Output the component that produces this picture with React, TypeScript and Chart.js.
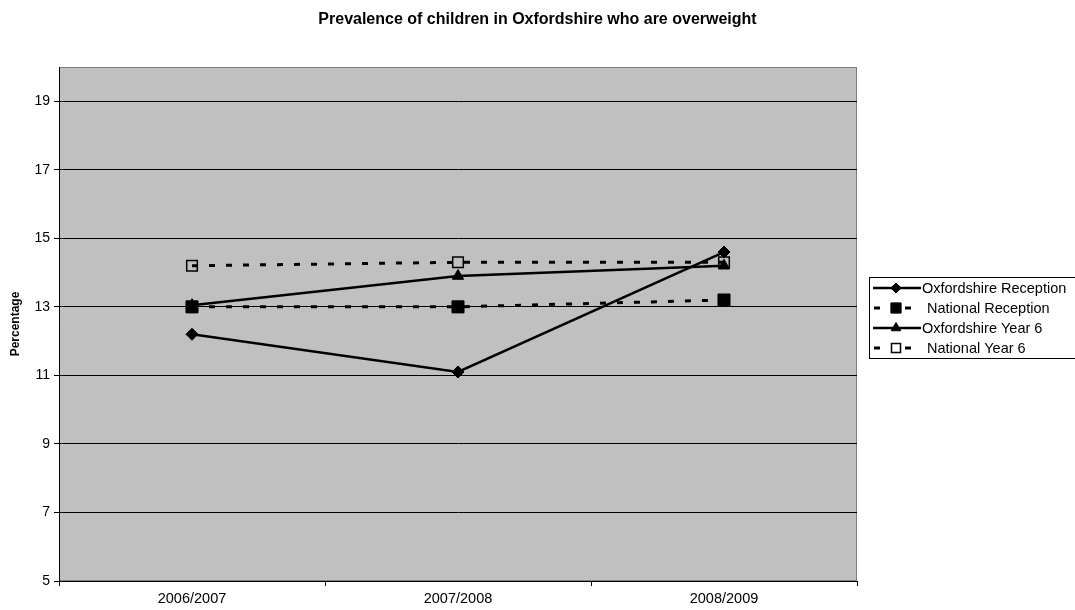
import React, { useEffect, useRef } from 'react';
import { Chart, registerables } from 'chart.js';

Chart.register(...registerables);

const chartTitle = 'Prevalence of children in Oxfordshire who are overweight';
const yAxisTitle = 'Percentage';
const categories = ['2006/2007', '2007/2008', '2008/2009'];
const seriesNames = ['Oxfordshire Reception', 'National Reception', 'Oxfordshire Year 6', 'National Year 6'];
const oxfordshireReception = [12.2, 11.1, 14.6];
const nationalReception = [13.0, 13.0, 13.2];
const oxfordshireYear6 = [13.05, 13.9, 14.2];
const nationalYear6 = [14.2, 14.3, 14.3];
const yTicks = [5, 7, 9, 11, 13, 15, 17, 19];
const yMin = 5;
const yMax = 20;

const FONT = "'Liberation Sans', Arial, sans-serif";
const DASH = [6, 11];

type Marker = { style: string; radius: number; fill: string; border: number; dashed: boolean };
const markers: Marker[] = [
  { style: 'rectRot', radius: 6, fill: '#000', border: 1, dashed: false },
  { style: 'rect', radius: 8.5, fill: '#000', border: 1, dashed: true },
  { style: 'triangle', radius: 6.5, fill: '#000', border: 1, dashed: false },
  { style: 'rect', radius: 7.5, fill: 'rgba(0,0,0,0)', border: 1.5, dashed: true },
];

function drawMarker(ctx: CanvasRenderingContext2D, m: Marker, x: number, y: number) {
  ctx.save();
  ctx.fillStyle = m.fill;
  ctx.strokeStyle = '#000';
  ctx.lineWidth = m.border;
  ctx.setLineDash([]);
  ctx.beginPath();
  const r = m.radius;
  if (m.style === 'rectRot') {
    ctx.moveTo(x, y - r);
    ctx.lineTo(x + r, y);
    ctx.lineTo(x, y + r);
    ctx.lineTo(x - r, y);
    ctx.closePath();
  } else if (m.style === 'rect') {
    const s = Math.SQRT1_2 * r;
    ctx.rect(x - s, y - s, 2 * s, 2 * s);
  } else if (m.style === 'triangle') {
    ctx.moveTo(x, y - r);
    ctx.lineTo(x + r * Math.sin(2 * Math.PI / 3), y - r * Math.cos(2 * Math.PI / 3));
    ctx.lineTo(x + r * Math.sin(4 * Math.PI / 3), y - r * Math.cos(4 * Math.PI / 3));
    ctx.closePath();
  }
  ctx.fill();
  ctx.stroke();
  ctx.restore();
}

const decorPlugin = {
  id: 'decor',
  beforeDraw(chart: any) {
    const { ctx, chartArea } = chart;
    const { left, top, right, bottom } = chartArea;
    ctx.save();
    ctx.fillStyle = '#ffffff';
    ctx.fillRect(0, 0, chart.width, chart.height);
    ctx.fillStyle = '#c0c0c0';
    ctx.fillRect(left, top, right - left, bottom - top);
    ctx.strokeStyle = '#808080';
    ctx.lineWidth = 1;
    ctx.strokeRect(left + 0.5, top + 0.5, right - left - 1, bottom - top - 1);
    ctx.restore();
  },
  afterDraw(chart: any) {
    const { ctx } = chart;
    ctx.save();
    // title
    ctx.fillStyle = '#000';
    ctx.font = `bold 16px ${FONT}`;
    ctx.textAlign = 'center';
    ctx.textBaseline = 'middle';
    ctx.fillText(chartTitle, chart.width / 2, 20);

    // legend
    const bx = 869.5, by = 277.5, bw = 210, bh = 81;
    ctx.strokeStyle = '#000';
    ctx.lineWidth = 1;
    ctx.strokeRect(bx, by, bw, bh);
    ctx.font = `14.5px ${FONT}`;
    ctx.textAlign = 'left';
    seriesNames.forEach((name, i) => {
      const y = 288 + i * 20;
      const m = markers[i];
      ctx.save();
      ctx.strokeStyle = '#000';
      if (m.dashed) {
        ctx.lineWidth = 3;
        ctx.beginPath();
        ctx.moveTo(874, y); ctx.lineTo(880, y);
        ctx.moveTo(905, y); ctx.lineTo(911, y);
        ctx.stroke();
      } else {
        ctx.lineWidth = 2.5;
        ctx.beginPath();
        ctx.moveTo(873, y); ctx.lineTo(921, y);
        ctx.stroke();
      }
      ctx.restore();
      const mm = { ...m, radius: m.style === 'rect' ? m.radius * 0.85 : m.radius * 0.85 };
      drawMarker(ctx, mm, 896, y);
      ctx.fillStyle = '#000';
      ctx.fillText(name, m.dashed ? 927 : 922, y + 1);
    });
    ctx.restore();
  },
};

export default function App() {
  const ref = useRef<HTMLCanvasElement | null>(null);

  useEffect(() => {
    if (!ref.current) return;
    const seriesData = [oxfordshireReception, nationalReception, oxfordshireYear6, nationalYear6];
    const chart = new Chart(ref.current, {
      type: 'line',
      data: {
        labels: categories,
        datasets: seriesNames.map((name, i) => ({
          label: name,
          data: seriesData[i],
          borderColor: '#000',
          borderWidth: markers[i].dashed ? 3 : 2.5,
          borderDash: markers[i].dashed ? DASH : [],
          tension: 0,
          fill: false,
          pointStyle: markers[i].style as any,
          pointRadius: markers[i].radius,
          pointHoverRadius: markers[i].radius,
          pointBackgroundColor: markers[i].fill,
          pointBorderColor: '#000',
          pointBorderWidth: markers[i].border,
        })),
      },
      options: {
        responsive: false,
        animation: false,
        events: [],
        layout: { padding: { top: 67, right: 218, left: 0, bottom: 0 } },
        plugins: {
          legend: { display: false },
          title: { display: false },
          tooltip: { enabled: false },
        },
        scales: {
          x: {
            type: 'category',
            offset: true,
            afterFit: (s: any) => { s.height = 29; },
            grid: { offset: true, drawOnChartArea: false, drawTicks: true, tickLength: 5, color: '#000' },
            border: { color: '#000', width: 1 },
            ticks: { color: '#000', font: { family: FONT, size: 14.5 }, padding: 4, maxRotation: 0 },
          },
          y: {
            type: 'linear',
            min: yMin,
            max: yMax,
            afterBuildTicks: (s: any) => { s.ticks = yTicks.map((v) => ({ value: v })); },
            afterFit: (s: any) => { s.width = 59; },
            grid: { color: '#000', lineWidth: 1, tickLength: 5 },
            border: { color: '#000', width: 1 },
            ticks: { color: '#000', font: { family: FONT, size: 14 }, padding: 4 },
            title: { display: true, text: yAxisTitle, color: '#000', font: { family: FONT, size: 12, weight: 'bold' }, padding: { top: 8, bottom: 0 } },
          },
        },
      },
      plugins: [decorPlugin],
    });
    return () => chart.destroy();
  }, []);

  return (
    <div style={{ position: 'absolute', left: 0, top: 0, width: 1075, height: 610 }}>
      <canvas ref={ref} width={1075} height={610} style={{ width: 1075, height: 610, display: 'block' }} />
    </div>
  );
}
